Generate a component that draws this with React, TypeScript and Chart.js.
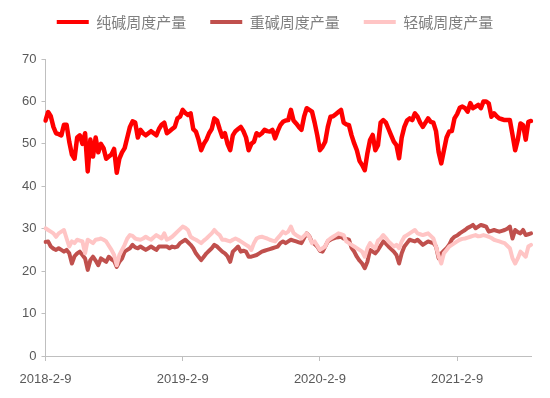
import React, { useEffect, useRef } from "react";
import { Chart, registerables } from "chart.js";

Chart.register(...registerables);

const startDate = "2018-02-09";
const pointCount = 185;
const tickEvery = 52;
const tickLabels = ["2018-2-9", "2019-2-9", "2020-2-9", "2021-2-9"];
const seriesNames = ["纯碱周度产量", "重碱周度产量", "轻碱周度产量"];
const seriesColors = ["#FF0000", "#C0504D", "#FFC5C5"];
const yTicks = { min: 0, max: 70, step: 10 };

const sodaAsh = [
  55.5, 57.5, 56.5, 54, 52.5, 52.3, 52, 54.5, 54.5, 50.5,
  47.5, 46.5, 51.5, 52, 50, 52.5, 43.5, 51, 47, 51.5,
  48, 50, 49, 46.5, 47, 47.5, 48.8, 43.2, 46.5, 48,
  49, 51.5, 54, 55.3, 55, 51.5, 53.3, 52.5, 52, 52.5,
  53, 52.5, 52, 53.5, 54.5, 55, 52.5, 53, 53.5, 54,
  56, 56.4, 58, 57.3, 56.8, 57.2, 53.5, 52.9, 51, 48.5,
  50, 51, 52.5, 53.5, 56, 55.5, 53.5, 51.7, 52.5, 50,
  48.5, 52, 53, 53.5, 54, 53, 51.5, 48.5, 50, 50.5,
  52.5, 52, 52.5, 53.3, 53, 52.9, 53.3, 51.3, 53, 54.4,
  55.2, 55.5, 55.6, 58, 55.5, 54.8, 54, 53.3, 56.4, 58.4,
  58, 57.6, 55, 52, 48.5, 49.3, 50.5, 54, 56.4, 56.5,
  57, 57.5, 58, 55, 54.6, 54.4, 52, 50.1, 48.5, 46,
  45, 43.8, 47.8, 50.9, 52.1, 48.5, 49.7, 55, 55.6, 55,
  53.5, 52, 50.5, 49.7, 46.6, 51.5, 54, 55.5, 56, 55.6,
  57.2, 56.4, 55, 54, 55, 56, 55.2, 55, 53, 48,
  45.4, 48.5, 51.5, 52.9, 53, 56, 57, 58.5, 58.8, 58.4,
  57.6, 59.6, 58.4, 58.8, 59.2, 58.4, 60, 60, 59.5, 56.4,
  57.2, 56.5, 56, 55.8, 55.6, 55.6, 55.6, 52.1, 48.5, 51,
  54.8, 54.4, 51, 55.2, 55.4,
];

const denseAsh = [
  26.9, 27, 25.8, 25.3, 25, 25.4, 25, 24.6, 25, 24.2,
  21.8, 23.5, 24.2, 24.6, 23.8, 23, 20.3, 22.6, 23.4, 22.5,
  21.4, 23, 22.6, 22.2, 23.4, 22.8, 22.4, 21, 22.2, 23,
  24.6, 25, 25.4, 26.2, 25.6, 25.4, 25.8, 25.4, 25, 25.4,
  25.8, 25.4, 25, 25.8, 25.8, 25.8, 25.8, 25.4, 25.8, 25.6,
  25.8, 26.6, 27, 27.4, 26.8, 26.2, 25.4, 24.2, 23.4, 22.6,
  23.4, 24.2, 24.8, 25.4, 26.2, 25.8, 25.2, 24.6, 24.2, 23.5,
  22.2, 24.6, 25.2, 25.8, 24.6, 24.8, 24.6, 23.4, 23.4, 23.6,
  23.8, 24.2, 24.6, 24.8, 25, 25.2, 25.4, 25.6, 25.8, 26.6,
  27, 26.6, 27, 27.4, 27.2, 27, 26.8, 26.6, 27.8, 28.9,
  28.2, 26.8, 26.4, 25.8, 24.8, 24.6, 25.8, 27, 27.4, 27.7,
  27.9, 28, 28.1, 27.7, 27.6, 27.4, 25.5, 24.6, 23.4, 22.5,
  21.8, 20.7, 22.2, 25, 24.6, 24.2, 25, 26, 27, 26.5,
  25.8, 25.2, 24.6, 23.8, 21.8, 24.2, 25.8, 26.6, 27.4, 27.2,
  27, 27.4, 26.8, 26.2, 26.6, 27, 26.8, 26.6, 25.8, 23,
  24.2, 24.8, 25.4, 26.2, 27.5, 28.1, 28.4, 28.9, 29.3, 29.7,
  30.2, 30.5, 30.9, 30.1, 30.5, 30.9, 30.7, 30.5, 29.3, 29.5,
  29.7, 29.5, 29.3, 29.5, 29.7, 30, 30.5, 27.7, 29.7, 29.2,
  28.9, 29.7, 28.5, 28.7, 28.9,
];

const lightAsh = [
  30.1, 29.7, 29.3, 28.9, 28.1, 28.9, 29.3, 29.7, 27.7, 25.8,
  27, 26.6, 27.4, 27.2, 27, 24.2, 27.4, 27, 26.6, 27.4,
  27.5, 27.7, 27.4, 27, 26, 25, 23.8, 21.4, 23.8, 25,
  26.2, 27.7, 28.5, 28.3, 27.7, 27.5, 27.4, 27.7, 28.1, 27.7,
  27.4, 28, 28.5, 28.1, 27.7, 28.9, 27.4, 27.7, 28.1, 28.7,
  29.3, 29.9, 30.5, 30.2, 29.7, 28.1, 27.7, 27.4, 27, 26.6,
  27.2, 27.7, 28.3, 28.9, 29.7, 29, 28.5, 27.4, 27.4, 27.2,
  27, 27.4, 27.7, 27.4, 27, 26.6, 26.2, 25.8, 25, 26.6,
  27.7, 28, 28.1, 27.9, 27.7, 27.4, 27.2, 27, 27.8, 28.5,
  29.3, 28.9, 29.3, 30.5, 29, 28.5, 28.1, 27.7, 28.3, 28.9,
  28.1, 26.6, 27, 26, 25, 25.4, 25.8, 27.2, 27.7, 28.1,
  28.5, 28.9, 28.7, 28.5, 27, 26.6, 26.2, 25.8, 25.4, 25,
  24.6, 23.4, 25.4, 26.6, 25.8, 25.4, 27.2, 27.7, 28.5, 27.8,
  27, 26.4, 25.8, 26.2, 25.4, 27, 28.1, 28.5, 28.9, 29.3,
  29.7, 28.9, 28.7, 28.5, 28.7, 28.9, 28.3, 27.7, 25.8, 23.5,
  21.8, 24.2, 25, 25.8, 26.2, 26.6, 27, 27.4, 27.6, 27.7,
  27.9, 28.1, 28.3, 28.5, 28.2, 28.3, 28.5, 28.3, 28.1, 27.8,
  27.4, 27.2, 27, 26.8, 26.6, 26, 25.4, 23, 21.8, 23,
  24.6, 24, 23.4, 25.8, 26.2,
];

function buildCategories(): string[] {
  const out: string[] = [];
  const base = new Date(startDate + "T00:00:00Z").getTime();
  for (let i = 0; i < pointCount; i++) {
    const d = new Date(base + i * 7 * 86400000);
    out.push(`${d.getUTCFullYear()}-${d.getUTCMonth() + 1}-${d.getUTCDate()}`);
  }
  return out;
}

export default function App() {
  const canvasRef = useRef<HTMLCanvasElement | null>(null);

  useEffect(() => {
    document.body.style.margin = "0";
    const canvas = canvasRef.current;
    if (!canvas) return;
    const categories = buildCategories();
    const values = [sodaAsh, denseAsh, lightAsh];
    const widths = [4.5, 4, 4];
    const orders = [2, 1, 0];
    const axisColor = "#BFBFBF";
    const textColor = "#595959";
    const legendColor = "#7F7F7F";

    const chart = new Chart(canvas, {
      type: "line",
      data: {
        labels: categories,
        datasets: values.map((v, i) => ({
          label: seriesNames[i],
          data: v,
          borderColor: seriesColors[i],
          backgroundColor: seriesColors[i],
          borderWidth: widths[i],
          pointRadius: 0,
          pointHoverRadius: 0,
          tension: 0,
          fill: false,
          borderJoinStyle: "round" as const,
          borderCapStyle: "round" as const,
          order: orders[i],
        })),
      },
      options: {
        responsive: false,
        animation: false,
        layout: { padding: { left: 19, right: 19, top: -9.5, bottom: 0 } },
        plugins: {
          tooltip: { enabled: false },
          title: {
            display: true,
            text: "",
            weight: 500,
            font: { size: 10 },
            padding: { top: 0, bottom: 7.5 },
          },
          legend: {
            position: "top",
            labels: {
              boxWidth: 32,
              boxHeight: 4,
              padding: 24,
              color: legendColor,
              font: { family: "'Noto Sans CJK SC', sans-serif", size: 15 },
              generateLabels: (c: any) =>
                c.data.datasets.map((ds: any, i: number) => ({
                  text: ds.label,
                  fillStyle: ds.borderColor,
                  strokeStyle: ds.borderColor,
                  lineWidth: 0,
                  hidden: false,
                  datasetIndex: i,
                  fontColor: legendColor,
                })),
            },
          },
        },
        scales: {
          x: {
            type: "category",
            grid: {
              drawOnChartArea: false,
              drawTicks: true,
              tickLength: 5,
              color: axisColor,
            },
            border: { color: axisColor, width: 1 },
            ticks: {
              autoSkip: false,
              maxRotation: 0,
              minRotation: 0,
              padding: 11,
              color: textColor,
              font: { family: "'Liberation Sans', Arial, sans-serif", size: 13 },
              callback: (_v: any, i: number) =>
                i % tickEvery === 0 ? tickLabels[i / tickEvery] : null,
            },
            afterFit: (s: any) => {
              s.height = 42;
            },
          },
          y: {
            min: yTicks.min,
            max: yTicks.max,
            grid: {
              drawOnChartArea: false,
              drawTicks: true,
              tickLength: 4,
              color: axisColor,
            },
            border: { color: axisColor, width: 1 },
            ticks: {
              stepSize: yTicks.step,
              padding: 5,
              color: textColor,
              font: { family: "'Liberation Sans', Arial, sans-serif", size: 13 },
            },
            afterFit: (s: any) => {
              s.width = 26.5;
            },
          },
        },
      },
    });
    return () => chart.destroy();
  }, []);

  return (
    <div style={{ position: "relative", width: 550, height: 398 }}>
      <canvas ref={canvasRef} width={550} height={398} />
    </div>
  );
}
